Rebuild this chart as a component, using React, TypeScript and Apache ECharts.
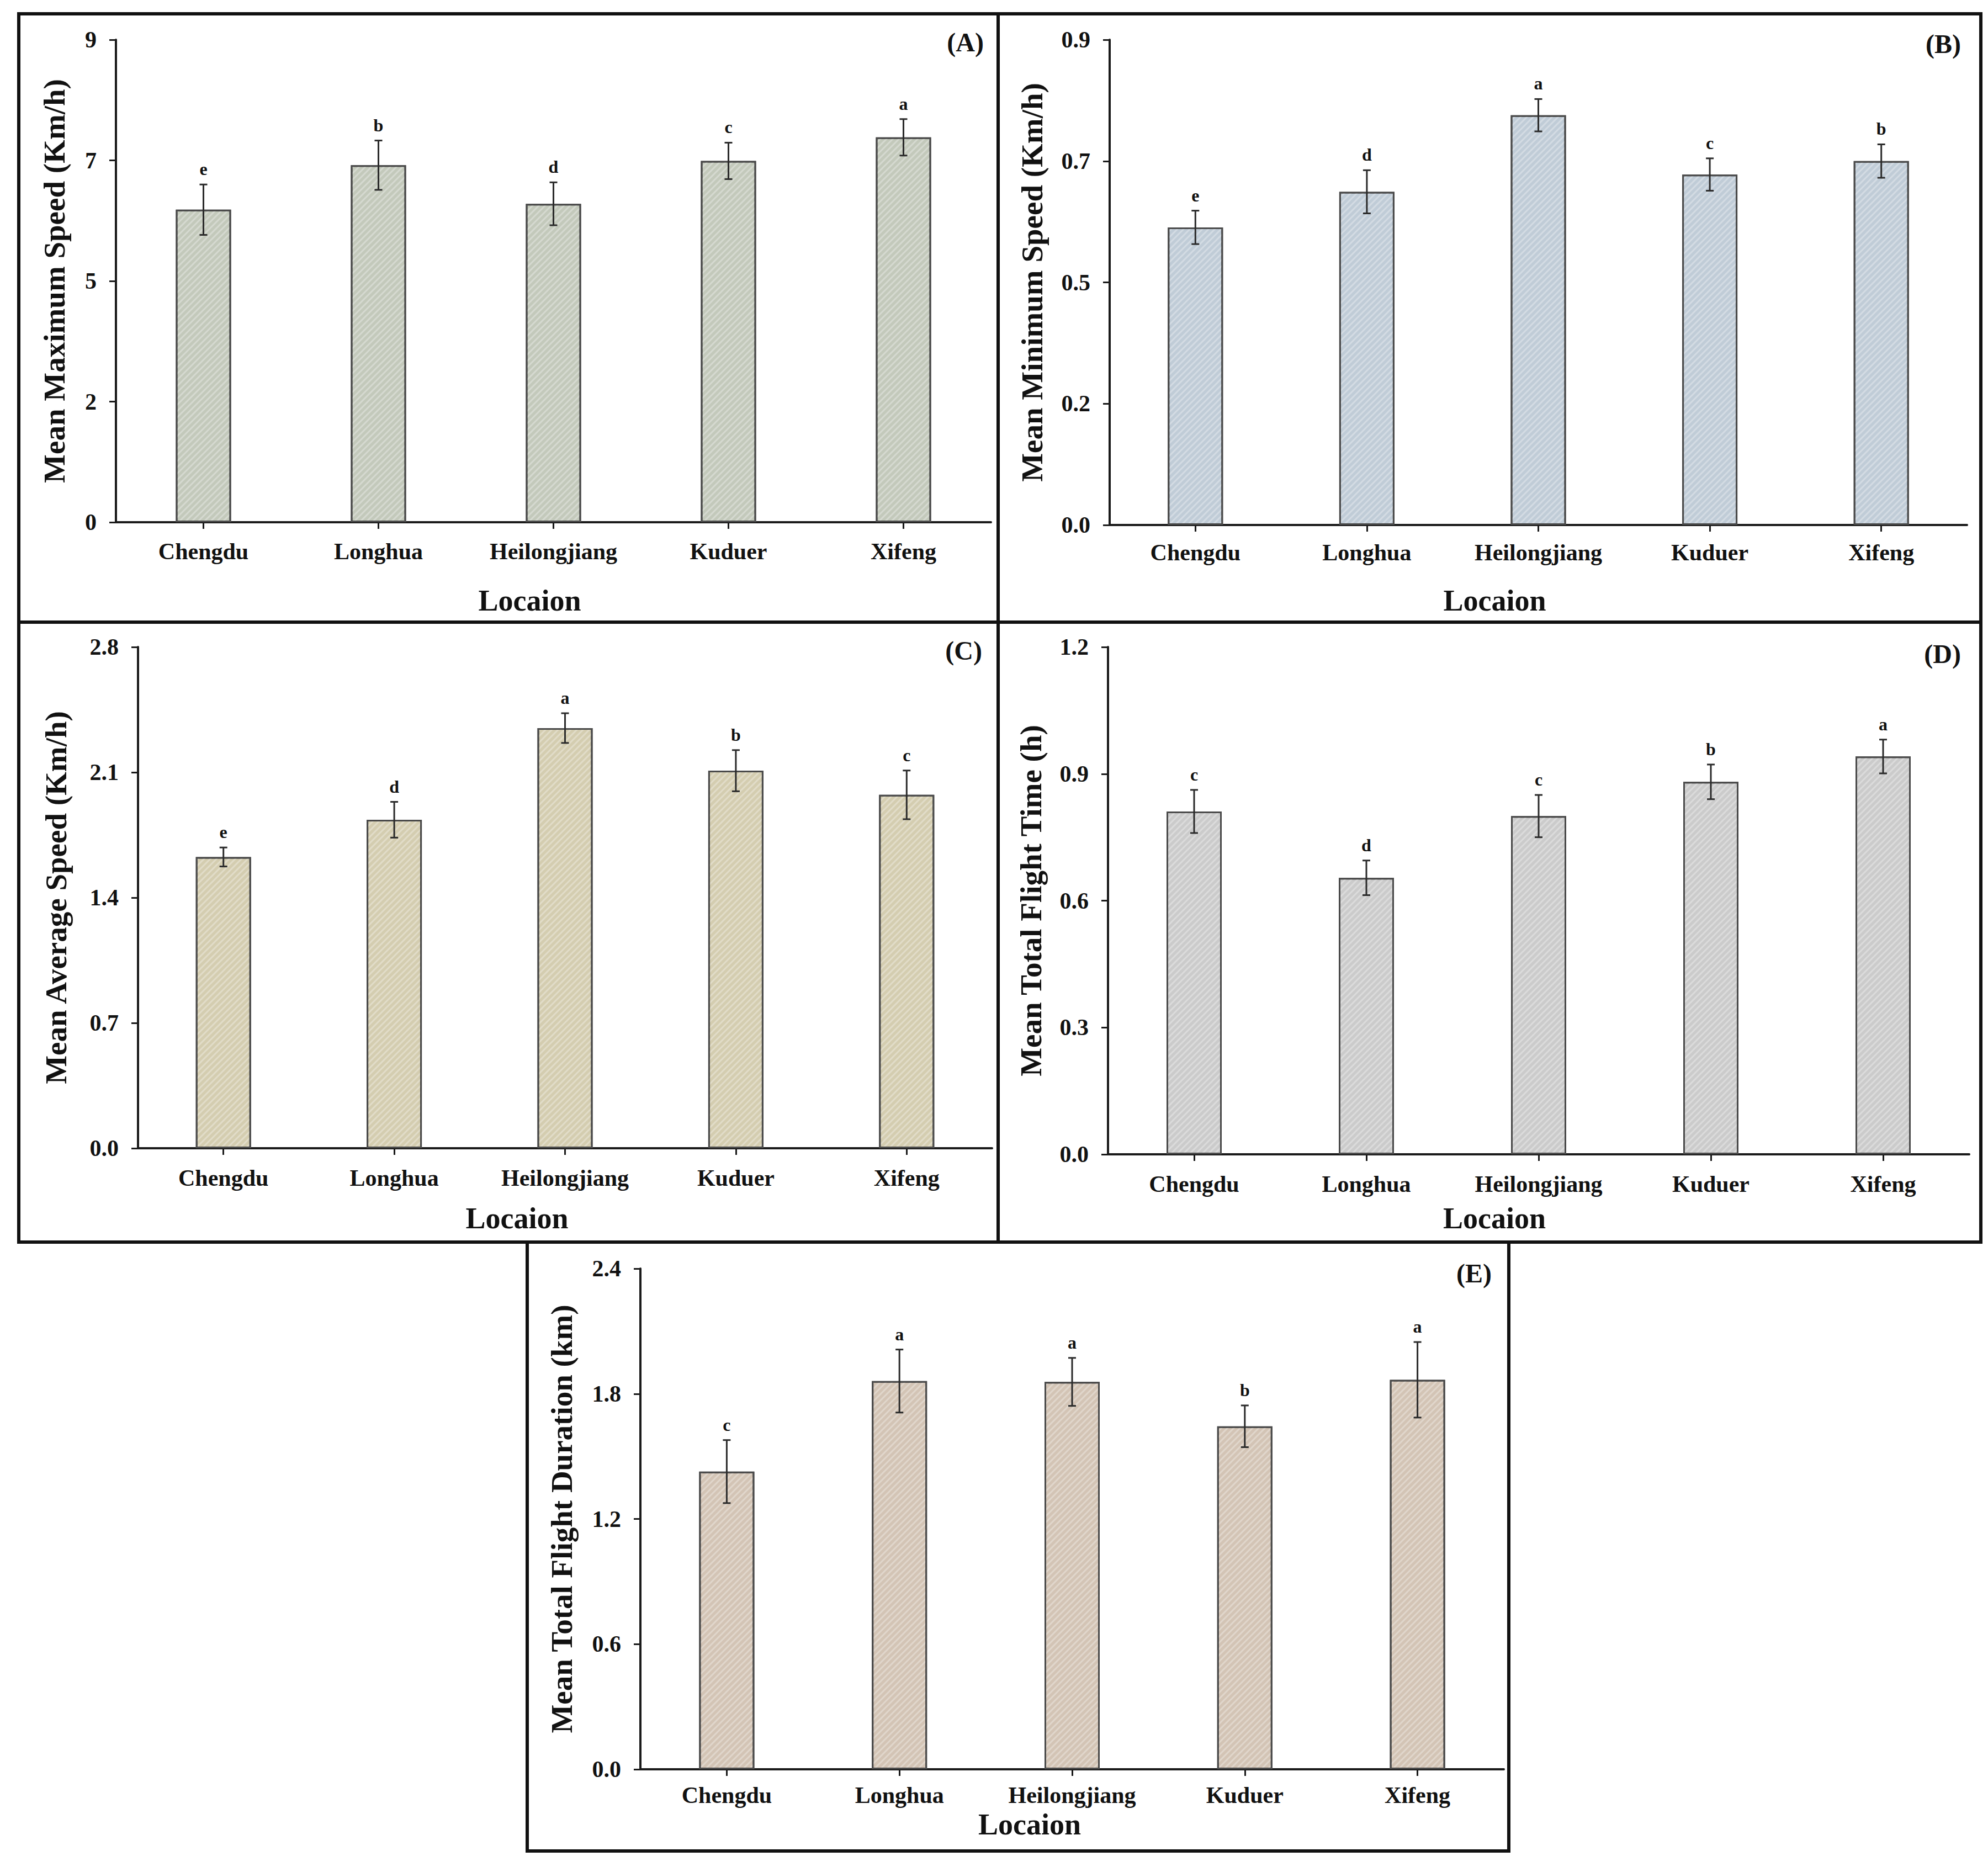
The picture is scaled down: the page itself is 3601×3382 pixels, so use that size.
import React, { useEffect, useRef } from "react";
import * as echarts from "echarts";

// ---------- data ----------
const categories = ["Chengdu", "Longhua", "Heilongjiang", "Kuduer", "Xifeng"];

const maxSpeedMean = [5.83, 6.66, 5.94, 6.74, 7.18];
const maxSpeedErr = [0.47, 0.46, 0.4, 0.34, 0.34];
const maxSpeedLetters = ["e", "b", "d", "c", "a"];

const minSpeedMean = [0.552, 0.618, 0.76, 0.65, 0.675];
const minSpeedErr = [0.031, 0.04, 0.03, 0.03, 0.031];
const minSpeedLetters = ["e", "d", "a", "c", "b"];

const avgSpeedMean = [1.627, 1.835, 2.347, 2.109, 1.974];
const avgSpeedErr = [0.053, 0.1, 0.083, 0.115, 0.136];
const avgSpeedLetters = ["e", "d", "a", "b", "c"];

const flightTimeMean = [0.811, 0.654, 0.8, 0.881, 0.941];
const flightTimeErr = [0.051, 0.041, 0.05, 0.041, 0.04];
const flightTimeLetters = ["c", "d", "c", "b", "a"];

const flightDurMean = [1.427, 1.861, 1.857, 1.644, 1.867];
const flightDurErr = [0.151, 0.151, 0.115, 0.1, 0.181];
const flightDurLetters = ["c", "a", "a", "b", "a"];

const yTitles = [
  "Mean Maximum Speed (Km/h)",
  "Mean Minimum Speed (Km/h)",
  "Mean Average Speed (Km/h)",
  "Mean Total Flight Time (h)",
  "Mean Total Flight Duration (km)",
];
const panelLabels = ["(A)", "(B)", "(C)", "(D)", "(E)"];
const xTitle = "Locaion";
const yMax = [9, 0.9, 2.8, 1.2, 2.4];
const yInterval = [2.25, 0.225, 0.7, 0.3, 0.6];
const yDecimals = [0, 1, 1, 1, 1];

// ---------- styling / layout ----------
const FONT = '"Liberation Serif", "Times New Roman", serif';
const barColors = ["#c3c9bb", "#c0ccd7", "#d4cdb0", "#cbcbcb", "#d3c4b5"];

const layouts = [
  { grid: { left: 210, top: 72, width: 1585, height: 874 }, box: [34, 25, 1774, 1102], label: [1782, 76], xNameGap: 115, xNamePad: 86, yNameGap: 84, xLabelMargin: 32 },
  { grid: { left: 2010, top: 72, width: 1553, height: 879 }, box: [1808, 25, 1780, 1102], label: [3552, 79], xNameGap: 110, xNamePad: 158, yNameGap: 113, xLabelMargin: 29 },
  { grid: { left: 250, top: 1172, width: 1547, height: 908 }, box: [34, 1127, 1774, 1123], label: [1779, 1178], xNameGap: 100, xNamePad: 174, yNameGap: 121, xLabelMargin: 33 },
  { grid: { left: 2007, top: 1172, width: 1560, height: 919 }, box: [1808, 1127, 1780, 1123], label: [3552, 1184], xNameGap: 89, xNamePad: 160, yNameGap: 112, xLabelMargin: 33 },
  { grid: { left: 1160, top: 2298, width: 1564, height: 907 }, box: [955, 2250, 1778, 1103], label: [2702, 2306], xNameGap: 73, xNamePad: 154, yNameGap: 115, xLabelMargin: 26 },
];

const means = [maxSpeedMean, minSpeedMean, avgSpeedMean, flightTimeMean, flightDurMean];
const errs = [maxSpeedErr, minSpeedErr, avgSpeedErr, flightTimeErr, flightDurErr];
const letters = [maxSpeedLetters, minSpeedLetters, avgSpeedLetters, flightTimeLetters, flightDurLetters];

function buildOption() {
  const grids: any[] = [];
  const xAxes: any[] = [];
  const yAxes: any[] = [];
  const series: any[] = [];
  const graphics: any[] = [];

  layouts.forEach((L, p) => {
    grids.push({ ...L.grid, containLabel: false, outerBoundsMode: "none" });
    xAxes.push({
      type: "category",
      gridIndex: p,
      data: categories,
      axisLine: { show: true, lineStyle: { color: "#1a1a1a", width: 4 } },
      axisTick: { show: true, alignWithLabel: true, length: 12, lineStyle: { color: "#1a1a1a", width: 3 } },
      axisLabel: { interval: 0, margin: L.xLabelMargin, fontSize: 42, fontWeight: "bold", fontFamily: FONT, color: "#111" },
      name: xTitle,
      nameLocation: "middle",
      nameGap: L.xNameGap,
      nameTextStyle: { fontSize: 54, fontWeight: "bold", fontFamily: FONT, color: "#111", padding: [0, L.xNamePad, 0, 0] },
      splitLine: { show: false },
    });
    const dec = yDecimals[p];
    yAxes.push({
      type: "value",
      gridIndex: p,
      min: 0,
      max: yMax[p],
      interval: yInterval[p],
      axisLine: { show: true, lineStyle: { color: "#1a1a1a", width: 4 } },
      axisTick: { show: true, length: 12, lineStyle: { color: "#1a1a1a", width: 3 } },
      splitLine: { show: false },
      axisLabel: {
        margin: 35,
        fontSize: 42,
        fontWeight: "bold",
        fontFamily: FONT,
        color: "#111",
        formatter: (v: number) => {
          const f = Math.pow(10, dec);
          return (Math.round(v * f + 1e-9) / f).toFixed(dec);
        },
      },
      name: yTitles[p],
      nameLocation: "middle",
      nameRotate: 90,
      nameGap: L.yNameGap,
      nameTextStyle: { fontSize: 55, fontWeight: "bold", fontFamily: FONT, color: "#111" },
    });
    series.push({
      type: "bar",
      xAxisIndex: p,
      yAxisIndex: p,
      data: means[p],
      barWidth: 100,
      itemStyle: {
        color: barColors[p],
        borderColor: "#4a4a4a",
        borderWidth: 3,
        decal: {
          symbol: "rect",
          symbolSize: 1,
          dashArrayX: [1, 0],
          dashArrayY: [3, 5],
          rotation: -Math.PI / 4,
          color: "rgba(255,255,255,0.3)",
        },
      },
      z: 2,
    });
    const lt = letters[p];
    series.push({
      type: "custom",
      xAxisIndex: p,
      yAxisIndex: p,
      z: 5,
      data: categories.map((c, i) => [i, means[p][i], errs[p][i]]),
      encode: { x: 0, y: 1 },
      renderItem: (params: any, api: any) => {
        const idx = api.value(0);
        const m = api.value(1);
        const e = api.value(2);
        const t = api.coord([idx, m + e]);
        const b = api.coord([idx, m - e]);
        const x = t[0];
        const st = { stroke: "#2b2b2b", lineWidth: 3 };
        return {
          type: "group",
          children: [
            { type: "line", shape: { x1: x, y1: t[1], x2: x, y2: b[1] }, style: st },
            { type: "line", shape: { x1: x - 7, y1: t[1], x2: x + 7, y2: t[1] }, style: st },
            { type: "line", shape: { x1: x - 7, y1: b[1], x2: x + 7, y2: b[1] }, style: st },
            {
              type: "text",
              style: {
                text: lt[params.dataIndex],
                x: x,
                y: t[1] - 28,
                align: "center",
                verticalAlign: "middle",
                fontSize: 32,
                fontWeight: "bold",
                fontFamily: FONT,
                fill: "#111",
              },
            },
          ],
        };
      },
    });
    const [bx, by, bw, bh] = L.box;
    graphics.push({
      type: "rect",
      shape: { x: bx, y: by, width: bw, height: bh },
      style: { fill: "none", stroke: "#111", lineWidth: 6 },
      z: 10,
    });
    graphics.push({
      type: "text",
      x: L.label[0],
      y: L.label[1],
      style: {
        text: panelLabels[p],
        align: "right",
        verticalAlign: "middle",
        fontSize: 48,
        fontWeight: "bold",
        fontFamily: FONT,
        fill: "#111",
      },
      z: 10,
    });
  });

  return {
    animation: false,
    backgroundColor: "#ffffff",
    grid: grids,
    xAxis: xAxes,
    yAxis: yAxes,
    series,
    graphic: graphics,
  };
}

export default function App() {
  const ref = useRef<HTMLDivElement | null>(null);
  useEffect(() => {
    if (!ref.current) return;
    const chart = echarts.init(ref.current, null, { renderer: "svg" });
    chart.setOption(buildOption() as any);
    return () => chart.dispose();
  }, []);
  return (
    <div
      ref={ref}
      style={{ position: "fixed", left: 0, top: 0, width: 3601, height: 3382, background: "#fff" }}
    />
  );
}
